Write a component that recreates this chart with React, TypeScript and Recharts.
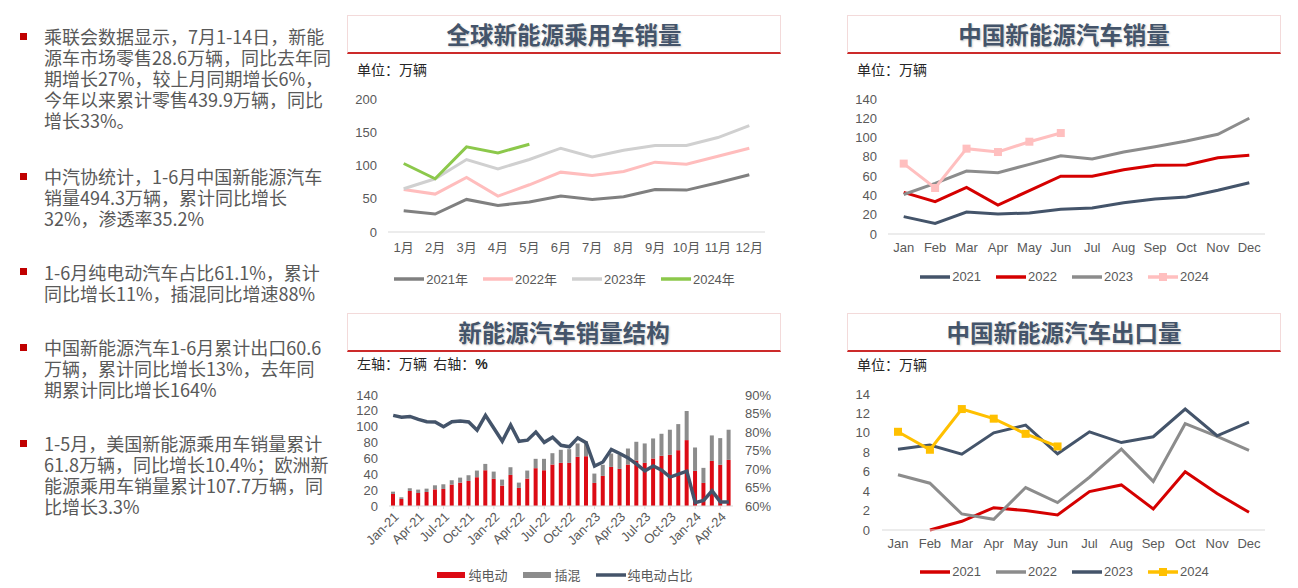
import { LineChart, Line, XAxis, YAxis, Legend, ComposedChart, Bar } from "recharts";

// 全球新能源乘用车销量（万辆）
const monthsCn = ["1月", "2月", "3月", "4月", "5月", "6月", "7月", "8月", "9月", "10月", "11月", "12月"];
const global2021 = [32, 27, 49, 40, 45, 54, 49, 53, 64, 63, 74, 86];
const global2022 = [64, 57, 82, 54, 71, 90, 85, 91, 105, 102, 114, 126];
const global2023 = [65, 80, 109, 95, 109, 126, 113, 123, 130, 130, 142, 160];
const global2024 = [103, 80, 128, 119, 132];

// 中国新能源汽车销量（万辆）
const monthsEn = ["Jan", "Feb", "Mar", "Apr", "May", "Jun", "Jul", "Aug", "Sep", "Oct", "Nov", "Dec"];
const cn2021 = [18, 11, 22.8, 20.7, 21.8, 25.6, 27, 32.5, 36.3, 38.4, 45.3, 53.2];
const cn2022 = [43.2, 33.5, 48.4, 30, 45, 60, 59.8, 66.7, 71.2, 71.5, 79, 81.6];
const cn2023 = [41, 52.5, 65.3, 63.6, 72.2, 81.2, 77.8, 85, 90.5, 96.4, 103.4, 120];
const cn2024 = [73, 47.7, 88.5, 85, 95.7, 104.7];

// 新能源汽车销量结构
const structMonths = [
  "Jan-21", "Feb-21", "Mar-21", "Apr-21", "May-21", "Jun-21", "Jul-21", "Aug-21", "Sep-21", "Oct-21", "Nov-21", "Dec-21",
  "Jan-22", "Feb-22", "Mar-22", "Apr-22", "May-22", "Jun-22", "Jul-22", "Aug-22", "Sep-22", "Oct-22", "Nov-22", "Dec-22",
  "Jan-23", "Feb-23", "Mar-23", "Apr-23", "May-23", "Jun-23", "Jul-23", "Aug-23", "Sep-23", "Oct-23", "Nov-23", "Dec-23",
  "Jan-24", "Feb-24", "Mar-24", "Apr-24", "May-24",
];
const bev = [
  15.2, 8.9, 19, 16.4, 17.7, 21, 21.5, 27, 29.5, 31.6, 36.3, 45.1,
  34.2, 25.7, 39.2, 22.8, 34.6, 47.7, 45.1, 52.3, 54.4, 54.4, 62, 62.8,
  29.1, 38, 49.3, 46.8, 52.3, 57.4, 54.4, 59.9, 63.3, 64.5, 70.4, 83.1,
  44.3, 29.1, 56.9, 51.9, 58.2,
];
const phev = [
  2.9, 2.1, 3.4, 4.3, 4.2, 5.1, 5.9, 5.5, 6.3, 7.2, 8.4, 8,
  9.2, 7.6, 9.7, 6.7, 10.1, 11.8, 14.4, 14.3, 16.5, 17.3, 16.9, 18.7,
  11.8, 14, 16.9, 18.2, 20.2, 23.6, 24.5, 25.3, 27.8, 31.7, 32.9, 36.7,
  29.5, 19, 32.1, 33.7, 38,
];
const bevShare = [
  84.5, 84, 84.2, 83.4, 82.8, 82.7, 81.4, 82.8, 83, 82.7, 80.5, 84.5,
  81, 77.5, 81.9, 77.5, 77.8, 80, 77.2, 78.6, 76.4, 76, 78.4, 77.1,
  70.8, 71.9, 75.3, 74.2, 73, 71.3, 69.5, 70.8, 69.7, 67.8, 68.6, 69.4,
  60.9, 61.5, 64.1, 61.1, 61.1,
];

// 中国新能源汽车出口量（万辆）
const ex2021 = [null, 0, 0.9, 2.3, 2, 1.55, 3.96, 4.64, 2.17, 6, 3.75, 1.82];
const ex2022 = [5.68, 4.82, 1.65, 1.1, 4.37, 2.82, 5.43, 8.32, 5, 10.94, 9.63, 8.19];
const ex2023 = [8.32, 8.74, 7.8, 10, 10.8, 7.84, 10.11, 9, 9.6, 12.45, 9.7, 11.1];
const ex2024 = [10.11, 8.26, 12.45, 11.46, 9.9, 8.6];

const bullets = [
  { y: 36.5, lines: ["乘联会数据显示，7月1-14日，新能", "源车市场零售28.6万辆，同比去年同", "期增长27%，较上月同期增长6%，", "今年以来累计零售439.9万辆，同比", "增长33%。"] },
  { y: 176.5, lines: ["中汽协统计，1-6月中国新能源汽车", "销量494.3万辆，累计同比增长", "32%，渗透率35.2%"] },
  { y: 272, lines: ["1-6月纯电动汽车占比61.1%，累计", "同比增长11%，插混同比增速88%"] },
  { y: 347.5, lines: ["中国新能源汽车1-6月累计出口60.6", "万辆，累计同比增长13%，去年同", "期累计同比增长164%"] },
  { y: 443.5, lines: ["1-5月，美国新能源乘用车销量累计", "61.8万辆，同比增长10.4%；欧洲新", "能源乘用车销量累计107.7万辆，同", "比增长3.3%"] },
];

const globalRows = monthsCn.map((m, i) => ({
  m,
  "2021年": global2021[i] ?? null,
  "2022年": global2022[i] ?? null,
  "2023年": global2023[i] ?? null,
  "2024年": global2024[i] ?? null,
}));
const cnRows = monthsEn.map((m, i) => ({
  m,
  "2021": cn2021[i] ?? null,
  "2022": cn2022[i] ?? null,
  "2023": cn2023[i] ?? null,
  "2024": cn2024[i] ?? null,
}));
const structRows = structMonths.map((m, i) => ({ m, bev: bev[i], phev: phev[i], share: bevShare[i] }));
const exRows = monthsEn.map((m, i) => ({
  m,
  "2021": ex2021[i] ?? null,
  "2022": ex2022[i] ?? null,
  "2023": ex2023[i] ?? null,
  "2024": ex2024[i] ?? null,
}));

const FONT = '"Liberation Sans", Arial, "Noto Sans CJK SC", sans-serif';
const CJK = '"Noto Sans CJK SC", "Liberation Sans", sans-serif';
const TICK = { fill: "#595959", fontSize: 13 };
const AXIS = { stroke: "#D9D9D9" };

const squareDot = (color: string) => (p: any) =>
  p.cx == null || p.cy == null || p.value == null ? (
    <g key={`d-${p.index}`} />
  ) : (
    <rect key={`d-${p.index}`} x={p.cx - 4} y={p.cy - 4} width={8} height={8} fill={color} />
  );

// legend drawn in the order given, with an optional square marker on some entries
const legendContent = (order: string[], marked: string[]) => (props: any) => {
  const items = [...(props.payload || [])].sort((a: any, b: any) => order.indexOf(a.value) - order.indexOf(b.value));
  return (
    <div style={{ display: "flex", justifyContent: "center", alignItems: "center", gap: 15, fontSize: 13, color: "#595959", fontFamily: FONT }}>
      {items.map((e: any) => (
        <span key={e.value} style={{ display: "flex", alignItems: "center" }}>
          <svg width={30} height={10}>
            {e.type === "rect" ? (
              <rect x={1} y={2} width={28} height={6} fill={e.color} />
            ) : (
              <line x1={0} y1={5} x2={30} y2={5} stroke={e.color} strokeWidth={3.5} strokeLinecap="round" />
            )}
            {marked.includes(e.value) && <rect x={11} y={1} width={8} height={8} fill={e.color} />}
          </svg>
          <span style={{ marginLeft: 2 }}>{e.value}</span>
        </span>
      ))}
    </div>
  );
};

function TitleBox({ left, top, text }: { left: number; top: number; text: string }) {
  return (
    <div
      style={{
        position: "absolute",
        left,
        top,
        width: 434,
        height: 39,
        boxSizing: "border-box",
        border: "1px solid #F3DADA",
        borderBottom: "2px solid #CC2A2A",
        display: "flex",
        alignItems: "center",
        justifyContent: "center",
        fontFamily: CJK,
        fontWeight: 700,
        fontSize: 23.5,
        color: "#44546A",
        textShadow: "1px 1px 2px rgba(0,0,0,0.2)",
      }}
    >
      {text}
    </div>
  );
}

function Unit({ left, top, children }: { left: number; top: number; children: any }) {
  return (
    <div style={{ position: "absolute", left, top, fontSize: 14, lineHeight: "18px", color: "#262626", fontFamily: CJK, whiteSpace: "nowrap" }}>
      {children}
    </div>
  );
}

export default function App() {
  return (
    <div style={{ position: "absolute", left: 0, top: 0, width: 1298, height: 588, background: "#fff", fontFamily: FONT, overflow: "hidden" }}>
      {/* left text */}
      {bullets.map((b, i) => (
        <div key={i}>
          <div style={{ position: "absolute", left: 20, top: b.y - 4, width: 7, height: 7, background: "#C00000" }} />
          <div style={{ position: "absolute", left: 44, top: b.y - 10.5, fontSize: 18, lineHeight: "21px", color: "#595959", fontFamily: CJK, whiteSpace: "nowrap" }}>
            {b.lines.map((l, j) => (
              <div key={j}>{l}</div>
            ))}
          </div>
        </div>
      ))}

      {/* 全球新能源乘用车销量 */}
      <TitleBox left={347} top={15} text="全球新能源乘用车销量" />
      <Unit left={357} top={60}>单位：万辆</Unit>
      <div style={{ position: "absolute", left: 347, top: 80 }}>
        <LineChart width={435} height={215} data={globalRows} margin={{ top: 19, right: 17, left: 0, bottom: 33 }}>
          <XAxis dataKey="m" interval={0} axisLine={AXIS} tickLine={false} tick={TICK} tickMargin={5} padding={{ left: 15.7, right: 15.7 }} />
          <YAxis domain={[0, 200]} ticks={[0, 50, 100, 150, 200]} interval={0} axisLine={false} tickLine={false} tick={TICK} tickMargin={5} width={41} />
          <Legend layout="horizontal" verticalAlign="middle" align="center" wrapperStyle={{ left: 0, top: 189, width: "100%" }} content={legendContent(["2021年", "2022年", "2023年", "2024年"], [])} />
          <Line dataKey="2021年" stroke="#808080" strokeWidth={3} dot={false} isAnimationActive={false} />
          <Line dataKey="2022年" stroke="#FFBDBD" strokeWidth={3} dot={false} isAnimationActive={false} />
          <Line dataKey="2023年" stroke="#D0D0D0" strokeWidth={3} dot={false} isAnimationActive={false} />
          <Line dataKey="2024年" stroke="#8CC84B" strokeWidth={3} dot={false} isAnimationActive={false} />
        </LineChart>
      </div>

      {/* 中国新能源汽车销量 */}
      <TitleBox left={847} top={15} text="中国新能源汽车销量" />
      <Unit left={857} top={60}>单位：万辆</Unit>
      <div style={{ position: "absolute", left: 847, top: 80 }}>
        <LineChart width={435} height={215} data={cnRows} margin={{ top: 19, right: 17, left: 0, bottom: 31 }}>
          <XAxis dataKey="m" interval={0} axisLine={AXIS} tickLine={false} tick={TICK} tickMargin={3} padding={{ left: 15.7, right: 15.7 }} />
          <YAxis domain={[0, 140]} ticks={[0, 20, 40, 60, 80, 100, 120, 140]} interval={0} axisLine={false} tickLine={false} tick={TICK} tickMargin={5} width={41} />
          <Legend layout="horizontal" verticalAlign="middle" align="center" wrapperStyle={{ left: 0, top: 189, width: "100%" }} content={legendContent(["2021", "2022", "2023", "2024"], ["2024"])} />
          <Line dataKey="2021" stroke="#44546A" strokeWidth={3} dot={false} isAnimationActive={false} />
          <Line dataKey="2022" stroke="#D50000" strokeWidth={3} dot={false} isAnimationActive={false} />
          <Line dataKey="2023" stroke="#8C8C8C" strokeWidth={3} dot={false} isAnimationActive={false} />
          <Line dataKey="2024" stroke="#FFBFBF" strokeWidth={3} dot={squareDot("#FFBFBF")} isAnimationActive={false} />
        </LineChart>
      </div>

      {/* 新能源汽车销量结构 */}
      <TitleBox left={347} top={313} text="新能源汽车销量结构" />
      <Unit left={357} top={354}>
        左轴：万辆&nbsp;&nbsp;右轴：<b style={{ fontFamily: FONT }}>%</b>
      </Unit>
      <div style={{ position: "absolute", left: 347, top: 375 }}>
        <ComposedChart width={435} height={213} data={structRows} margin={{ top: 20, right: 0, left: 0, bottom: 37 }}>
          <XAxis
            dataKey="m"
            interval={2}
            axisLine={AXIS}
            tickLine={AXIS}
            tickSize={3}
            tickMargin={2}
            angle={-45}
            textAnchor="end"
            height={45}
            tick={TICK}
          />
          <YAxis yAxisId="left" domain={[0, 140]} ticks={[0, 20, 40, 60, 80, 100, 120, 140]} interval={0} axisLine={false} tickLine={false} tick={TICK} tickMargin={5} width={42} />
          <YAxis
            yAxisId="right"
            orientation="right"
            domain={[60, 90]}
            ticks={[60, 65, 70, 75, 80, 85, 90]}
            interval={0}
            tickFormatter={(v) => `${v}%`}
            axisLine={false}
            tickLine={false}
            tick={TICK}
            tickMargin={6}
            width={49}
          />
          <Legend layout="horizontal" verticalAlign="middle" align="center" wrapperStyle={{ left: 0, top: 190, width: "100%" }} content={legendContent(["纯电动", "插混", "纯电动占比"], [])} />
          <Bar yAxisId="left" dataKey="bev" name="纯电动" stackId="s" fill="#DC0A14" barSize={4} isAnimationActive={false} />
          <Bar yAxisId="left" dataKey="phev" name="插混" stackId="s" fill="#8C8C8C" barSize={4} isAnimationActive={false} />
          <Line yAxisId="right" dataKey="share" name="纯电动占比" stroke="#44546A" strokeWidth={3.5} dot={false} isAnimationActive={false} />
        </ComposedChart>
      </div>

      {/* 中国新能源汽车出口量 */}
      <TitleBox left={847} top={313} text="中国新能源汽车出口量" />
      <Unit left={857} top={355}>单位：万辆</Unit>
      <div style={{ position: "absolute", left: 847, top: 375 }}>
        <LineChart width={435} height={213} data={exRows} margin={{ top: 19, right: 17, left: 0, bottom: 28 }}>
          <XAxis dataKey="m" interval={0} axisLine={AXIS} tickLine={false} tick={TICK} tickMargin={3} padding={{ left: 16, right: 16 }} />
          <YAxis domain={[0, 14]} ticks={[0, 2, 4, 6, 8, 10, 12, 14]} interval={0} axisLine={false} tickLine={false} tick={TICK} tickMargin={6} width={35} />
          <Legend layout="horizontal" verticalAlign="middle" align="center" wrapperStyle={{ left: 0, top: 189, width: "100%" }} content={legendContent(["2021", "2022", "2023", "2024"], ["2024"])} />
          <Line dataKey="2021" stroke="#D50000" strokeWidth={3} dot={false} isAnimationActive={false} />
          <Line dataKey="2022" stroke="#8C8C8C" strokeWidth={3} dot={false} isAnimationActive={false} />
          <Line dataKey="2023" stroke="#44546A" strokeWidth={3} dot={false} isAnimationActive={false} />
          <Line dataKey="2024" stroke="#FFC000" strokeWidth={3} dot={squareDot("#FFC000")} isAnimationActive={false} />
        </LineChart>
      </div>
    </div>
  );
}
